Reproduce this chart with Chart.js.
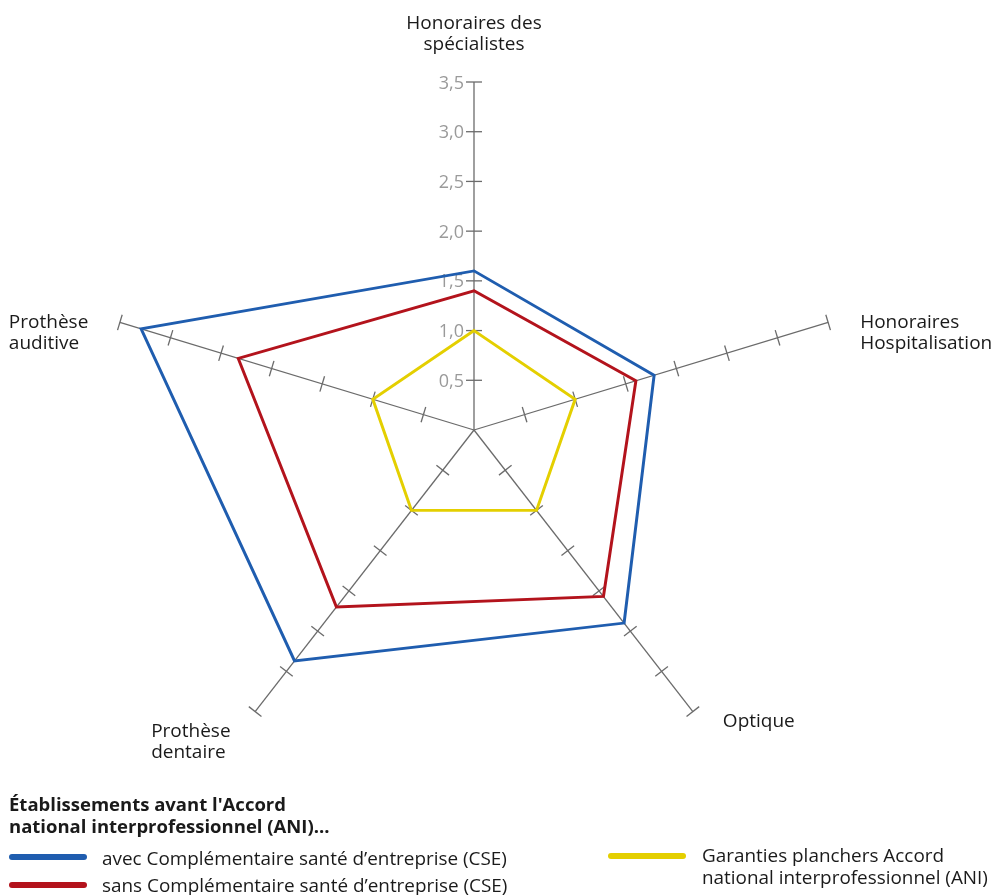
<!DOCTYPE html>
<html>
<head>
<meta charset="utf-8">
<script src="https://cdn.jsdelivr.net/npm/chart.js@4"></script>
<style>
  html, body { margin: 0; padding: 0; background: #ffffff; }
  canvas { display: block; }
</style>
</head>
<body>
<canvas id="chart" width="994" height="895"></canvas>
<script>
// Categories (one per spoke, clockwise from the top)
const categories = [
  ["Honoraires des", "spécialistes"],
  ["Honoraires", "Hospitalisation"],
  ["Optique"],
  ["Prothèse", "dentaire"],
  ["Prothèse", "auditive"]
];

// Series values
const avecCSE = [1.6, 1.78, 2.4, 2.87, 3.29];
const sansCSE = [1.4, 1.6, 2.07, 2.2, 2.33];
const planchersANI = [1.0, 1.0, 1.0, 1.0, 1.0];

// Series names and legend heading
const seriesNames = [
  ["avec Complémentaire santé d’entreprise (CSE)"],
  ["sans Complémentaire santé d’entreprise (CSE)"],
  ["Garanties planchers Accord", "national interprofessionnel (ANI)"]
];
const legendTitle = ["Établissements avant l'Accord", "national interprofessionnel (ANI)..."];

// Radial scale range
const scaleMin = 0;
const scaleMax = 3.5;
const scaleStep = 0.5;

// ---- styling ----
const FONT = '"Open Sans", "Noto Sans", sans-serif';
const COLORS = ['#1f5daf', '#b3131c', '#e4cf00'];
const AXIS_COLOR = '#6b6b6b';
const TICK_LABEL_COLOR = '#9a9a9a';
const X_STRETCH = 1.07;   // the web is drawn slightly wider than tall

// where each spoke's caption sits, relative to the spoke's outer end
const labelPlacement = [
  { align: 'center', dx: 0,    dy: [-53, -32] },
  { align: 'left',   dx: 32,   dy: [6, 27] },
  { align: 'left',   dx: 30,   dy: [15] },
  { align: 'left',   dx: -104, dy: [25, 46] },
  { align: 'left',   dx: -111, dy: [6, 27] }
];

const fmt = v => v.toFixed(1).replace('.', ',');

function stretchX(scale, x) {
  return scale.xCenter + (x - scale.xCenter) * X_STRETCH;
}

const radarFrame = {
  id: 'radarFrame',
  beforeDatasetsDraw(chart) {
    const s = chart.scales.r;
    const ctx = chart.ctx;
    const n = chart.data.labels.length;
    const cx = s.xCenter, cy = s.yCenter;

    ctx.save();
    ctx.strokeStyle = AXIS_COLOR;
    ctx.lineWidth = 1.3;
    ctx.lineCap = 'butt';
    for (let i = 0; i < n; i++) {
      const end = s.getPointPositionForValue(i, s.max);
      const ex = stretchX(s, end.x), ey = end.y;
      ctx.beginPath();
      ctx.moveTo(cx, cy);
      ctx.lineTo(ex, ey);
      ctx.stroke();
      const len = Math.hypot(ex - cx, ey - cy);
      const ux = (ex - cx) / len, uy = (ey - cy) / len;
      const px = -uy, py = ux;
      s.ticks.forEach(t => {
        if (t.value <= s.min) return;
        const p = s.getPointPositionForValue(i, t.value);
        const x = stretchX(s, p.x), y = p.y;
        ctx.beginPath();
        ctx.moveTo(x - px * 8, y - py * 8);
        ctx.lineTo(x + px * 8, y + py * 8);
        ctx.stroke();
      });
    }

    // value labels along the first spoke
    ctx.fillStyle = TICK_LABEL_COLOR;
    ctx.font = '18px ' + FONT;
    ctx.textAlign = 'right';
    ctx.textBaseline = 'alphabetic';
    s.ticks.forEach(t => {
      if (t.value <= s.min) return;
      const p = s.getPointPositionForValue(0, t.value);
      ctx.fillText(fmt(t.value), p.x - 10, p.y + 6.5);
    });

    // spoke captions
    ctx.fillStyle = '#1a1a1a';
    ctx.font = '19px ' + FONT;
    chart.data.labels.forEach((lines, i) => {
      const end = s.getPointPositionForValue(i, s.max);
      const ex = stretchX(s, end.x), ey = end.y;
      const pl = labelPlacement[i];
      ctx.textAlign = pl.align;
      lines.forEach((line, k) => {
        ctx.fillText(line, ex + pl.dx, ey + pl.dy[k]);
      });
    });
    ctx.restore();

    // the series share the same horizontal stretch as the spokes
    ctx.save();
    ctx.translate(cx, 0);
    ctx.scale(X_STRETCH, 1);
    ctx.translate(-cx, 0);
  },
  afterDatasetsDraw(chart) {
    chart.ctx.restore();
  },
  afterDraw(chart) {
    const ctx = chart.ctx;
    ctx.save();
    ctx.fillStyle = '#1a1a1a';
    ctx.textAlign = 'left';
    ctx.textBaseline = 'alphabetic';
    ctx.font = 'bold 18.5px ' + FONT;
    ctx.fillText(legendTitle[0], 9, 811);
    ctx.fillText(legendTitle[1], 9, 833);

    const items = [
      { x0: 12,  x1: 84,  y: 857, tx: 102, ty: [865] },
      { x0: 12,  x1: 84,  y: 885, tx: 102, ty: [892] },
      { x0: 611, x1: 683, y: 856, tx: 702, ty: [862, 884] }
    ];
    ctx.font = '18.9px ' + FONT;
    chart.data.datasets.forEach((ds, i) => {
      const it = items[i];
      ctx.strokeStyle = ds.borderColor;
      ctx.lineWidth = 6;
      ctx.lineCap = 'round';
      ctx.beginPath();
      ctx.moveTo(it.x0, it.y);
      ctx.lineTo(it.x1, it.y);
      ctx.stroke();
      ctx.fillStyle = '#1a1a1a';
      seriesNames[i].forEach((line, k) => ctx.fillText(line, it.tx, it.ty[k]));
    });
    ctx.restore();
  }
};

const makeSet = (label, data, color) => ({
  label, data,
  borderColor: color,
  backgroundColor: 'transparent',
  borderWidth: 2.8,
  fill: false,
  tension: 0,
  pointRadius: 0,
  pointHoverRadius: 0,
  borderJoinStyle: 'miter'
});

new Chart(document.getElementById('chart'), {
  type: 'radar',
  data: {
    labels: categories,
    datasets: [
      makeSet(seriesNames[0].join(' '), avecCSE, COLORS[0]),
      makeSet(seriesNames[1].join(' '), sansCSE, COLORS[1]),
      makeSet(seriesNames[2].join(' '), planchersANI, COLORS[2])
    ]
  },
  options: {
    responsive: false,
    animation: false,
    events: [],
    layout: { padding: { top: 82, bottom: 117, left: 0, right: 46 } },
    plugins: { legend: { display: false }, tooltip: { enabled: false } },
    scales: {
      r: {
        min: scaleMin,
        max: scaleMax,
        ticks: { stepSize: scaleStep, display: false },
        grid: { display: false },
        angleLines: { display: false },
        pointLabels: { display: false }
      }
    }
  },
  plugins: [radarFrame]
});
</script>
</body>
</html>
